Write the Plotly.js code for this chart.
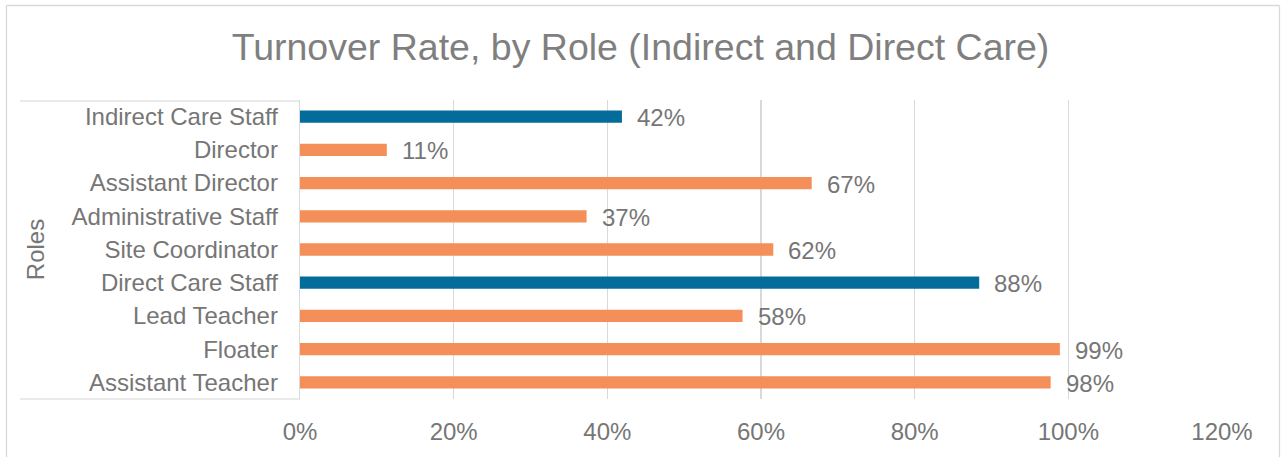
<!DOCTYPE html>
<html>
<head>
<meta charset="utf-8">
<script src="https://cdn.plot.ly/plotly-3.0.1.min.js"></script>
<style>html,body{margin:0;padding:0;background:#fff;}#chart{width:1281px;height:457px;}</style>
</head>
<body>
<div id="chart"></div>
<script>
// Data (top to bottom as shown)
const roles = ["Indirect Care Staff","Director","Assistant Director","Administrative Staff","Site Coordinator","Direct Care Staff","Lead Teacher","Floater","Assistant Teacher"];
const turnover = [0.419, 0.113, 0.666, 0.373, 0.616, 0.884, 0.576, 0.989, 0.977];
const isGroupTotal = [true, false, false, false, false, true, false, false, false];
const xTickVals = [0, 0.2, 0.4, 0.6, 0.8, 1.0, 1.2];
const xTickText = ["0%","20%","40%","60%","80%","100%","120%"];

const BLUE = "rgb(4,108,154)";
const ORANGE = "rgb(245,143,89)";
const GRID = "#d9d9d9";
const TXT = "#767676";
const FONT = "Liberation Sans, Arial, sans-serif";

const W = 1281, H = 457;
const L = 300, R = 59, T = 100, B = 58;
const pw = W - L - R, ph = H - T - B;
const px = x => (x - L) / pw;
const py = y => 1 - (y - T) / ph;

const trace = {
  type: "bar",
  orientation: "h",
  y: roles,
  x: turnover,
  width: 0.37,
  marker: {color: isGroupTotal.map(g => g ? BLUE : ORANGE)},
  hoverinfo: "skip"
};

const annotations = roles.map((r, i) => ({
  x: turnover[i], y: r, xref: "x", yref: "y",
  text: Math.round(turnover[i] * 100) + "%",
  showarrow: false, xanchor: "left", yanchor: "middle",
  xshift: 13, yshift: -1,
  font: {family: FONT, size: 24, color: TXT}
}));

const line = (x0, y0, x1, y1, color) => ({
  type: "line", xref: "paper", yref: "paper",
  x0: px(x0), y0: py(y0), x1: px(x1), y1: py(y1),
  line: {color: color, width: 1.3}, layer: "below"
});

const shapes = [
  // outer chart border
  line(6.5, 5.5, 1279.5, 5.5, GRID),
  line(6.5, 5.5, 6.5, 470, GRID),
  line(1279.5, 5.5, 1279.5, 470, GRID),
  // box around category labels
  line(20, 101, 300, 101, "#e3e3e3"),
  line(20, 399, 300, 399, "#e3e3e3")
];

const layout = {
  width: W, height: H,
  margin: {l: L, r: R, t: T, b: B, pad: 0},
  paper_bgcolor: "#ffffff",
  plot_bgcolor: "#ffffff",
  showlegend: false,
  title: {
    text: "Turnover Rate, by Role (Indirect and Direct Care)",
    font: {family: FONT, size: 37.5, color: "#7f7f7f"},
    x: 0.5, xref: "container", xanchor: "center",
    y: 1 - 47 / H, yref: "container", yanchor: "middle"
  },
  xaxis: {
    range: [0, 1.2],
    tickvals: xTickVals, ticktext: xTickText,
    showgrid: true, gridcolor: GRID, gridwidth: 1.3,
    zeroline: false, showline: false,
    ticks: "", ticklabelstandoff: 16,
    tickfont: {family: FONT, size: 24, color: TXT},
    fixedrange: true
  },
  yaxis: {
    type: "category",
    autorange: "reversed",
    showgrid: false, zeroline: false,
    showline: true, linecolor: GRID, linewidth: 1.3,
    ticks: "", ticklabelstandoff: 16,
    tickfont: {family: FONT, size: 24, color: TXT},
    title: {text: "Roles", font: {family: FONT, size: 24, color: TXT}, standoff: 20},
    fixedrange: true
  },
  annotations: annotations,
  shapes: shapes
};

Plotly.newPlot("chart", [trace], layout, {displayModeBar: false, staticPlot: true});
</script>
</body>
</html>
